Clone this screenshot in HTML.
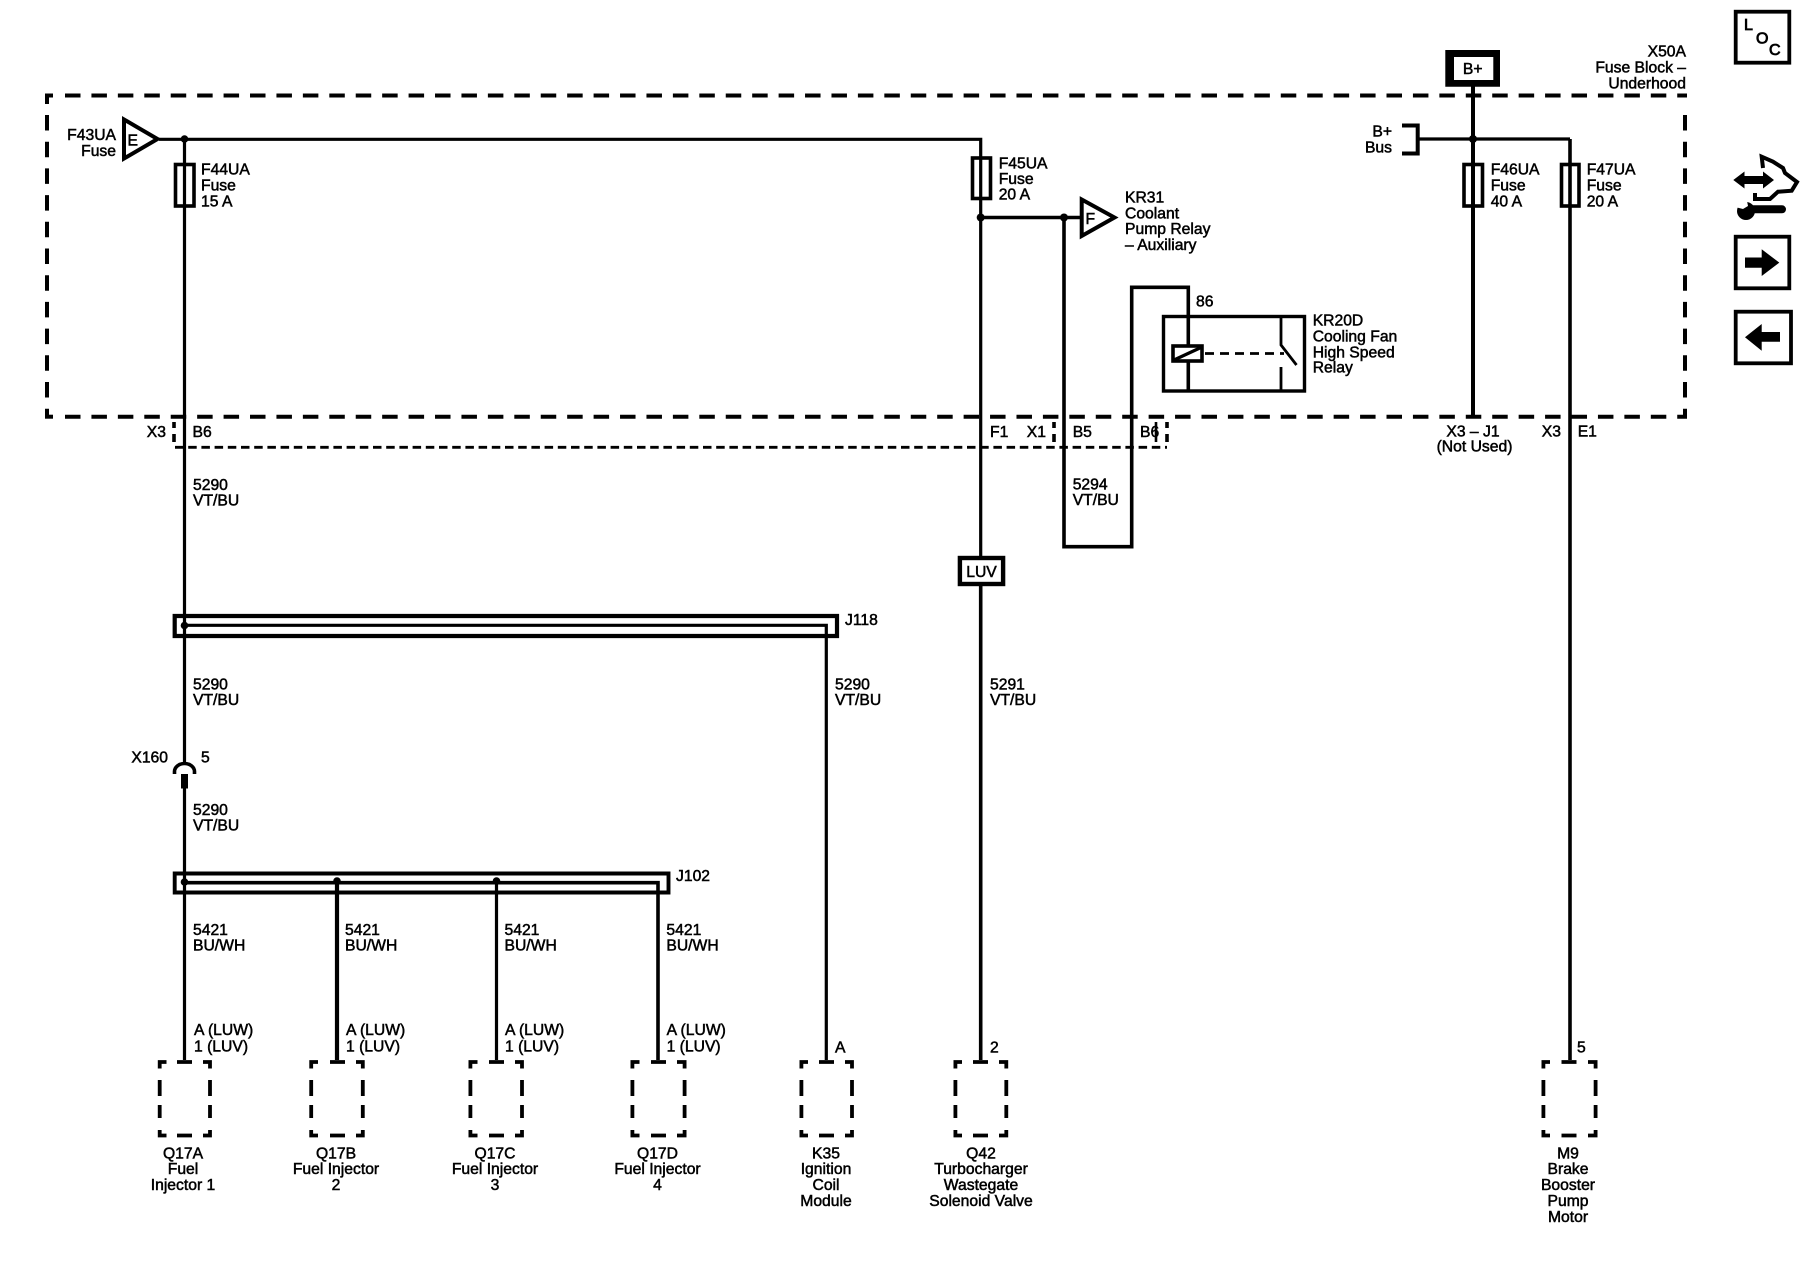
<!DOCTYPE html>
<html>
<head>
<meta charset="utf-8">
<title>Wiring Schematic</title>
<style>
html,body{margin:0;padding:0;background:#fff;}
svg{display:block;}
text{font-family:"Liberation Sans",Arial,sans-serif;font-size:15.7px;fill:#000;stroke:#000;stroke-width:.5px;}
.m{text-anchor:middle;}
.e{text-anchor:end;}
.w{fill:none;stroke:#000;stroke-width:3.6;}
.t{fill:none;stroke:#000;stroke-width:3.2;}
.b{fill:none;stroke:#000;stroke-width:4;}
</style>
</head>
<body>
<svg xmlns="http://www.w3.org/2000/svg" width="1800" height="1280" viewBox="0 0 1800 1280">
<rect width="1800" height="1280" fill="#fff"/>

<!-- Fuse block dashed outline -->
<g fill="none" stroke="#000" stroke-width="4">
<path d="M65 95.5H1687" stroke-dasharray="15.5 10.93"/>
<path d="M65 416.7H1687" stroke-dasharray="15.5 10.93"/>
<path d="M47 115V418.5" stroke-dasharray="15.5 11.2"/>
<path d="M1685 115V418.5" stroke-dasharray="15.5 11.2"/>
<path d="M47 104V95.5H53"/>
<path d="M45 416.7H53"/>
</g>

<!-- Lower connector dashed lines -->
<path d="M175 447.3H1167" fill="none" stroke="#000" stroke-width="2.8" stroke-dasharray="8.5 4.7"/>
<path d="M174 422V428M174 434V442M1054 422V428M1054 434V442M1167 422V428M1167 434V442" fill="none" stroke="#000" stroke-width="3.6"/>
<path d="M1156 422V442" fill="none" stroke="#000" stroke-width="2.6"/>

<!-- Wires -->
<path class="t" d="M159 139.3H980.7V556"/>
<path class="t" d="M184.5 139V763"/>
<path class="t" d="M184.5 788V1060"/>
<path class="w" d="M980.7 584V1060"/>
<path class="w" d="M980.7 217.5H1081"/>
<path class="w" d="M1064 217.5V546.7H1131.7V287.3H1188.3V346"/>
<path class="w" d="M1188.3 361V391"/>
<path class="b" d="M1473 86V417"/>
<path class="t" d="M1418 139H1570"/>
<path class="w" d="M1570 139V1060"/>
<path class="t" d="M337 881V1060" style="stroke-width:4.2"/>
<path class="t" d="M496.5 881V1060"/>
<path class="w" d="M184.5 882.7H658V1060"/>
<path class="t" d="M184.5 625.3H826.3V1060"/>

<!-- Dots -->
<g fill="#000">
<circle cx="184.5" cy="139" r="3.8"/>
<circle cx="980.7" cy="217.5" r="4"/>
<circle cx="1064" cy="217.5" r="4"/>
<circle cx="1473" cy="139" r="4"/>
<circle cx="184.5" cy="625.5" r="3.8"/>
<circle cx="184.5" cy="882" r="3.8"/>
<circle cx="337" cy="881" r="3.8"/>
<circle cx="496.5" cy="881" r="3.8"/>
</g>

<!-- Fuses -->
<rect class="t" x="175.5" y="164.5" width="18.5" height="41.5" style="stroke-width:3.6"/>
<rect class="t" x="972.5" y="158" width="18" height="40.5" style="stroke-width:3.6"/>
<rect class="t" x="1464" y="164.5" width="18.5" height="41.5" style="stroke-width:3.6"/>
<rect class="t" x="1561.5" y="164.5" width="17.5" height="41.5" style="stroke-width:3.6"/>

<!-- Triangles -->
<path class="b" d="M124 119.5V158.5L157.5 139Z" fill="#fff"/>
<path class="b" d="M1081.7 199.5V236L1114.5 217.5Z" fill="#fff"/>
<text x="127.5" y="145.5">E</text>
<text x="1085.5" y="224">F</text>

<!-- B+ bus bracket -->
<path class="b" d="M1402 125.5H1417.7V153.5H1402"/>

<!-- B+ box -->
<path fill="#000" fill-rule="evenodd" d="M1445.3 50H1500V86.7H1445.3ZM1454 57V80H1493.3V57Z"/>

<!-- LUV box -->
<rect class="b" x="959.9" y="558" width="43.2" height="26" fill="#fff" style="stroke-width:4.4"/>

<!-- J118 / J102 -->
<path d="M174.7 616V636H837V616Z" fill="none" stroke="#000" stroke-width="4.2"/>
<path d="M174.7 873.5V892.5H668.5V873.5Z" fill="none" stroke="#000" stroke-width="3.9"/>

<!-- X160 -->
<path d="M174.5 774V771.5A10 8 0 0 1 194.5 771.5V774" fill="none" stroke="#000" stroke-width="3.6"/>
<rect x="181" y="774" width="7" height="14.5" fill="#000"/>

<!-- Relay -->
<rect class="t" x="1163.5" y="316.5" width="141" height="74.5" style="stroke-width:3.4"/>
<rect x="1173" y="346" width="29" height="15" fill="#fff" stroke="#000" stroke-width="3.6"/>
<path d="M1174 360L1202 347" stroke="#000" stroke-width="3.2" fill="none"/>
<path d="M1205 353.5H1284" stroke="#000" stroke-width="2.8" stroke-dasharray="9 6" fill="none"/>
<path d="M1281 316V345L1296.5 365M1281 367V391" stroke="#000" stroke-width="2.8" fill="none"/>

<!-- Component boxes -->
<g fill="none" stroke="#000" stroke-width="3.8">
<path d="M159.7 1068.5V1062H166.5M177 1062H192M203 1062H210V1068.5M159.7 1080V1096M159.7 1105V1118M159.7 1130V1135.5H166.5M177 1135.5H192M203 1135.5H210V1130M210 1080V1096M210 1105V1118"/>
<path d="M311.2 1068.5V1062H318M330 1062H345M356 1062H362.8V1068.5M311.2 1080V1096M311.2 1105V1118M311.2 1130V1135.5H318M330 1135.5H345M356 1135.5H362.8V1130M362.8 1080V1096M362.8 1105V1118"/>
<path d="M470.4 1068.5V1062H477.5M489 1062H504M515 1062H522V1068.5M470.4 1080V1096M470.4 1105V1118M470.4 1130V1135.5H477.5M489 1135.5H504M515 1135.5H522V1130M522 1080V1096M522 1105V1118"/>
<path d="M632.4 1068.5V1062H639.5M651 1062H666M677 1062H684.6V1068.5M632.4 1080V1096M632.4 1105V1118M632.4 1130V1135.5H639.5M651 1135.5H666M677 1135.5H684.6V1130M684.6 1080V1096M684.6 1105V1118"/>
<path d="M801.4 1068.5V1062H808M819 1062H834M845 1062H852V1068.5M801.4 1080V1096M801.4 1105V1118M801.4 1130V1135.5H808M819 1135.5H834M845 1135.5H852V1130M852 1080V1096M852 1105V1118"/>
<path d="M955.4 1068.5V1062H962M973 1062H988M999 1062H1006.3V1068.5M955.4 1080V1096M955.4 1105V1118M955.4 1130V1135.5H962M973 1135.5H988M999 1135.5H1006.3V1130M1006.3 1080V1096M1006.3 1105V1118"/>
<path d="M1543.4 1068.5V1062H1550M1561.5 1062H1576.5M1588 1062H1595.6V1068.5M1543.4 1080V1096M1543.4 1105V1118M1543.4 1130V1135.5H1550M1561.5 1135.5H1576.5M1588 1135.5H1595.6V1130M1595.6 1080V1096M1595.6 1105V1118"/>
</g>

<!-- Side icons -->
<rect x="1735.7" y="11.7" width="53.6" height="51" fill="none" stroke="#000" stroke-width="3.8"/>
<rect x="1735.7" y="236.7" width="53.6" height="51.6" fill="none" stroke="#000" stroke-width="3.8"/>
<rect x="1735.7" y="311.7" width="55.3" height="51.6" fill="none" stroke="#000" stroke-width="3.8"/>
<path fill="#000" d="M1745 257.5H1761.7V249.3L1779.3 262.6L1761.7 276V267.7H1745Z"/>
<path fill="#000" d="M1745 337.3L1761.7 324V332H1780V341.7H1761.7V350.7Z"/>
<path fill="#000" d="M1733.3 180L1744.5 171.5V176H1763V171.5L1774 180L1763 188.5V184H1744.5V188.5Z"/>
<path fill="none" stroke="#000" stroke-width="4" d="M1763 168L1761.7 156.7L1773 161.7L1783 168L1785 173L1797 182L1791.7 190.7L1778 191.7L1770 199L1755 199V193"/>
<path fill="none" stroke="#000" stroke-width="8" stroke-linecap="round" d="M1752 209.3H1782"/>
<circle cx="1746" cy="211" r="9" fill="#000"/>
<path fill="#fff" d="M1735 201H1747L1748 206L1743 209L1735 207Z"/>

<!-- Labels -->
<text class="e" x="116" y="140">F43UA</text>
<text class="e" x="116" y="156">Fuse</text>
<text x="201" y="174.5">F44UA</text>
<text x="201" y="190.5">Fuse</text>
<text x="201" y="206.5">15 A</text>

<text x="998.7" y="168.5">F45UA</text>
<text x="998.7" y="184">Fuse</text>
<text x="998.7" y="199.5">20 A</text>

<text x="1125" y="202.7">KR31</text>
<text x="1125" y="218.3">Coolant</text>
<text x="1125" y="234">Pump Relay</text>
<text x="1125" y="250">– Auxiliary</text>

<text x="1196" y="306.7">86</text>
<text x="1312.7" y="325.7">KR20D</text>
<text x="1312.7" y="341.5">Cooling Fan</text>
<text x="1312.7" y="357.3">High Speed</text>
<text x="1312.7" y="372.7">Relay</text>

<text class="e" x="1392" y="136.7">B+</text>
<text class="e" x="1392" y="152.3">Bus</text>
<text class="m" x="1472.7" y="74">B+</text>

<text x="1490.7" y="174.7">F46UA</text>
<text x="1490.7" y="190.7">Fuse</text>
<text x="1490.7" y="206.7">40 A</text>
<text x="1586.7" y="174.7">F47UA</text>
<text x="1586.7" y="190.7">Fuse</text>
<text x="1586.7" y="206.7">20 A</text>

<text class="e" x="1686" y="56.7">X50A</text>
<text class="e" x="1686" y="72.7">Fuse Block –</text>
<text class="e" x="1686" y="88.3">Underhood</text>

<text x="1744" y="30" style="font-size:16px;stroke-width:.8px">L</text>
<text x="1756" y="43.3" style="font-size:16px;stroke-width:.8px">O</text>
<text x="1769" y="55" style="font-size:16px;stroke-width:.8px">C</text>

<text class="e" x="166" y="437">X3</text>
<text x="192.5" y="437">B6</text>
<text x="990" y="437">F1</text>
<text class="e" x="1046" y="437">X1</text>
<text x="1072.7" y="437">B5</text>
<text x="1140" y="437">B6</text>
<text class="m" x="1473" y="436.5">X3 – J1</text>
<text class="m" x="1474.5" y="451.7">(Not Used)</text>
<text class="e" x="1561" y="436.5">X3</text>
<text x="1577.7" y="436.5">E1</text>

<text x="193" y="490">5290</text>
<text x="193" y="505.5">VT/BU</text>
<text x="1072.7" y="489.3">5294</text>
<text x="1072.7" y="505">VT/BU</text>

<text class="m" x="981.5" y="577">LUV</text>

<text x="845" y="625">J118</text>
<text x="193" y="689.3">5290</text>
<text x="193" y="705">VT/BU</text>
<text x="835" y="689.3">5290</text>
<text x="835" y="705">VT/BU</text>
<text x="990" y="689.3">5291</text>
<text x="990" y="705">VT/BU</text>

<text class="e" x="168" y="762.3">X160</text>
<text x="201" y="762.3">5</text>

<text x="193" y="815">5290</text>
<text x="193" y="830.7">VT/BU</text>

<text x="676" y="881">J102</text>

<text x="193" y="935">5421</text>
<text x="193" y="950.7">BU/WH</text>
<text x="345" y="935">5421</text>
<text x="345" y="950.7">BU/WH</text>
<text x="504.5" y="935">5421</text>
<text x="504.5" y="950.7">BU/WH</text>
<text x="666.4" y="935">5421</text>
<text x="666.4" y="950.7">BU/WH</text>

<text x="194" y="1035">A (LUW)</text>
<text x="194" y="1051.5">1 (LUV)</text>
<text x="346" y="1035">A (LUW)</text>
<text x="346" y="1051.5">1 (LUV)</text>
<text x="505" y="1035">A (LUW)</text>
<text x="505" y="1051.5">1 (LUV)</text>
<text x="666.6" y="1035">A (LUW)</text>
<text x="666.6" y="1051.5">1 (LUV)</text>
<text x="835" y="1052.5">A</text>
<text x="990" y="1052.5">2</text>
<text x="1577" y="1052.5">5</text>

<text class="m" x="183" y="1158.3">Q17A</text>
<text class="m" x="183" y="1174">Fuel</text>
<text class="m" x="183" y="1190">Injector 1</text>

<text class="m" x="336" y="1158.3">Q17B</text>
<text class="m" x="336" y="1174">Fuel Injector</text>
<text class="m" x="336" y="1190">2</text>

<text class="m" x="495" y="1158.3">Q17C</text>
<text class="m" x="495" y="1174">Fuel Injector</text>
<text class="m" x="495" y="1190">3</text>

<text class="m" x="657.5" y="1158.3">Q17D</text>
<text class="m" x="657.5" y="1174">Fuel Injector</text>
<text class="m" x="657.5" y="1190">4</text>

<text class="m" x="826" y="1158.3">K35</text>
<text class="m" x="826" y="1174">Ignition</text>
<text class="m" x="826" y="1190">Coil</text>
<text class="m" x="826" y="1206">Module</text>

<text class="m" x="981" y="1158.3">Q42</text>
<text class="m" x="981" y="1174">Turbocharger</text>
<text class="m" x="981" y="1190">Wastegate</text>
<text class="m" x="981" y="1206">Solenoid Valve</text>

<text class="m" x="1568" y="1158.3">M9</text>
<text class="m" x="1568" y="1174">Brake</text>
<text class="m" x="1568" y="1190">Booster</text>
<text class="m" x="1568" y="1206">Pump</text>
<text class="m" x="1568" y="1222">Motor</text>
</svg>
</body>
</html>
